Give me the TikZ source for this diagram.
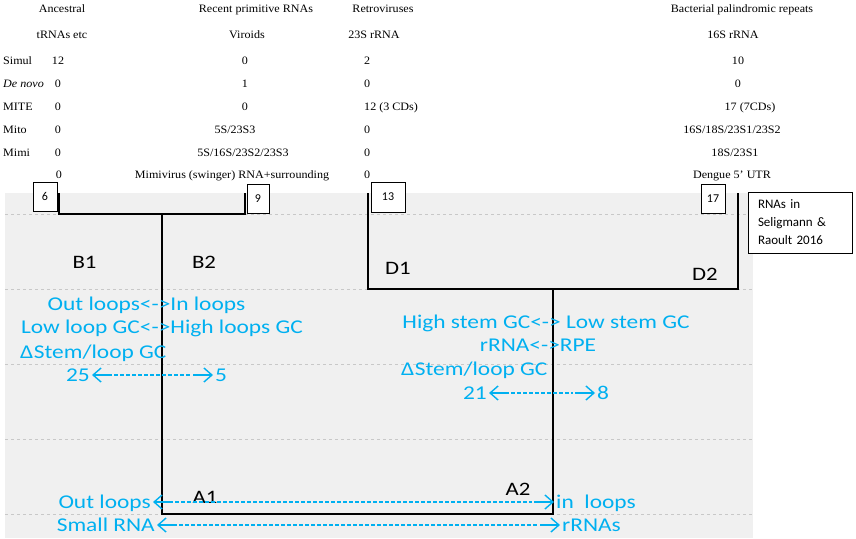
\documentclass[tikz,border=0pt]{standalone}
\usepackage{fontspec}
\setmainfont{Liberation Serif}[FakeStretch=1.07]
\newfontfamily\bluefnt[FakeStretch=1.2]{Carlito}
\newfontfamily\carl{Carlito}
\usetikzlibrary{arrows.meta}
\definecolor{skyb}{RGB}{0,176,240}
\definecolor{bggrey}{RGB}{240,240,240}
\definecolor{gridgrey}{RGB}{200,200,200}
\begin{document}
\begin{tikzpicture}[x=1pt,y=-1pt,
  tbl/.style={font=\fontsize{11.3}{13}\selectfont, inner sep=0pt, anchor=base},
  tblw/.style={tbl, anchor=base west},
  blu/.style={text=skyb, font=\bluefnt\fontsize{19.5}{22}\selectfont, inner sep=0pt, anchor=base},
  bluw/.style={blu, anchor=base west},
  blue/.style={blu, anchor=base east},
  lab/.style={font=\bluefnt\fontsize{19}{22}\selectfont, inner sep=0pt, anchor=base},
  numbox/.style={draw, fill=white, line width=0.8pt, font=\carl\fontsize{12}{14}\selectfont, inner sep=0pt},
  tree/.style={line width=1.6pt},
  gridline/.style={gridgrey, dash pattern=on 3pt off 3pt, line width=0.7pt},
  barrow/.style={skyb, line width=1.4pt, -{Straight Barb[length=8pt,width=14pt]}},
  bdash/.style={skyb, line width=1.2pt, dash pattern=on 4pt off 2pt}]
\useasboundingbox (0,0) rectangle (856,538);
\fill[bggrey] (5,193) rectangle (753,538);
\foreach \yy in {214,289,364,439,514} \draw[gridline] (5,\yy) -- (753,\yy);

% ---------- table ----------
\node[tbl] (h1) at (62,12.5) {Ancestral};
\node[tbl] (h2) at (256,12.5) {Recent primitive RNAs};
\node[tbl] (h3) at (383,12.5) {Retroviruses};
\node[tbl] (h4) at (742,12.5) {Bacterial palindromic repeats};
\node[tbl] (s1) at (62,38.5) {tRNAs etc};
\node[tbl] (s2) at (247,38.5) {Viroids};
\node[tbl] (s3) at (374,38.5) {23S rRNA};
\node[tbl] (s4) at (733,38.5) {16S rRNA};
\node[tblw] (l1) at (3,64.5) {Simul};
\node[tblw] (l2) at (3,87.5) {\itshape De novo};
\node[tblw] (l3) at (3,110.5) {MITE};
\node[tblw] (l4) at (3,133.5) {Mito};
\node[tblw] (l5) at (3,156.5) {Mimi};
\node[tbl] (a1) at (58,64.5) {12};
\node[tbl] (a2) at (58,87.5) {0};
\node[tbl] (a3) at (58,110.5) {0};
\node[tbl] (a4) at (58,133.5) {0};
\node[tbl] (a5) at (58,156.5) {0};
\node[tbl] (a6) at (59,178.5) {0};
\node[tbl] (b1) at (245,64.5) {0};
\node[tbl] (b2) at (245,87.5) {1};
\node[tbl] (b3) at (245,110.5) {0};
\node[tbl] (b4) at (235,133.5) {5S/23S3};
\node[tbl] (b5) at (243,156.5) {5S/16S/23S2/23S3};
\node[tbl] (b6) at (232,178.5) {Mimivirus (swinger) RNA+surrounding};
\node[tblw] (c1) at (364,64.5) {2};
\node[tblw] (c2) at (364,87.5) {0};
\node[tblw] (c3) at (364,110.5) {12 (3 CDs)};
\node[tblw] (c4) at (364,133.5) {0};
\node[tblw] (c5) at (364,156.5) {0};
\node[tblw] (c6) at (364,178.5) {0};
\node[tbl] (d1) at (738,64.5) {10};
\node[tbl] (d2) at (738,87.5) {0};
\node[tbl] (d3) at (750,110.5) {17 (7CDs)};
\node[tbl] (d4) at (732,133.5) {16S/18S/23S1/23S2};
\node[tbl] (d5) at (735,156.5) {18S/23S1};
\node[tbl] (d6) at (732,178.5) {Dengue 5’ UTR};

% ---------- tree ----------
\coordinate (b1top) at (59,193);
\coordinate (b1c) at (59,214);
\coordinate (b2c) at (245,214);
\coordinate (b2top) at (245,193);
\coordinate (bstem) at (162,214);
\coordinate (abl) at (162,514);
\coordinate (abr) at (553,514);
\coordinate (dstem) at (553,289);
\coordinate (d1top) at (368,193);
\coordinate (d1c) at (368,289);
\coordinate (d2c) at (738,289);
\coordinate (d2top) at (738,193);
\draw[tree] (b1top) -- (b1c) -- (b2c) -- (b2top);
\draw[tree] (bstem) -- (abl) -- (abr) -- (dstem);
\draw[tree] (d1top) -- (d1c) -- (d2c) -- (d2top);

% ---------- boxes ----------
\node[numbox, minimum width=24, minimum height=29] (box6) at (45,196.5) {6};
\node[numbox, minimum width=22, minimum height=29] (box9) at (258,198.5) {9};
\node[numbox, minimum width=34, minimum height=30] (box13) at (388,197) {13};
\node[numbox, minimum width=24, minimum height=29] (box17) at (713,198.5) {17};
\node[draw, fill=white, line width=0.8pt, font=\carl\fontsize{13}{18}\selectfont,
      inner xsep=10pt, inner ysep=0pt, text width=84pt, minimum height=61, align=left]
      (legend) at (800,222.5) {RNAs in\\Seligmann \&\\Raoult 2016};

% ---------- black labels ----------
\node[lab] (B1) at (84.5,268) {B1};
\node[lab] (B2) at (204,268) {B2};
\node[lab] (D1) at (398,274) {D1};
\node[lab] (D2) at (705,280) {D2};
\node[lab] (A1) at (205,503) {A1};
\node[lab] (A2) at (518,495) {A2};

% ---------- blue texts ----------
\node[blu] (t1) at (146.5,310) {Out loops<->In loops};
\node[blu] (t2) at (162,333) {Low loop GC<->High loops GC};
\node[bluw] (t3) at (20,358) {Δ\kern0.5pt Stem/loop GC};
\node[blue] (n25) at (90,381) {25};
\node[bluw] (n5) at (215,381) {5};
\node[blu] (r1) at (546,328) {High stem GC<-> Low stem GC};
\node[blu] (r2) at (538,351) {rRNA<->RPE};
\node[bluw] (r3) at (401,375) {Δ\kern0.5pt Stem/loop GC};
\node[blue] (n21) at (487,399) {21};
\node[bluw] (n8) at (597,399) {8};
\node[blue] (outl) at (151,508) {Out loops};
\node[bluw] (inl) at (556,508) {in\ \ loops};
\node[blue] (small) at (155,531) {Small RNA};
\node[bluw] (rrnas) at (562,531) {rRNAs};

% ---------- blue arrows ----------
\foreach \l/\r in {n25/n5, n21/n8, outl/inl, small/rrnas}{
  \draw[barrow] ([xshift=22pt,yshift=6pt]\l.base east) -- ([xshift=2pt,yshift=6pt]\l.base east);
  \draw[bdash] ([xshift=24pt,yshift=6pt]\l.base east) -- ([xshift=-24pt,yshift=6pt]\r.base west);
  \draw[barrow] ([xshift=-22pt,yshift=6pt]\r.base west) -- ([xshift=-2pt,yshift=6pt]\r.base west);
}
\end{tikzpicture}
\end{document}
